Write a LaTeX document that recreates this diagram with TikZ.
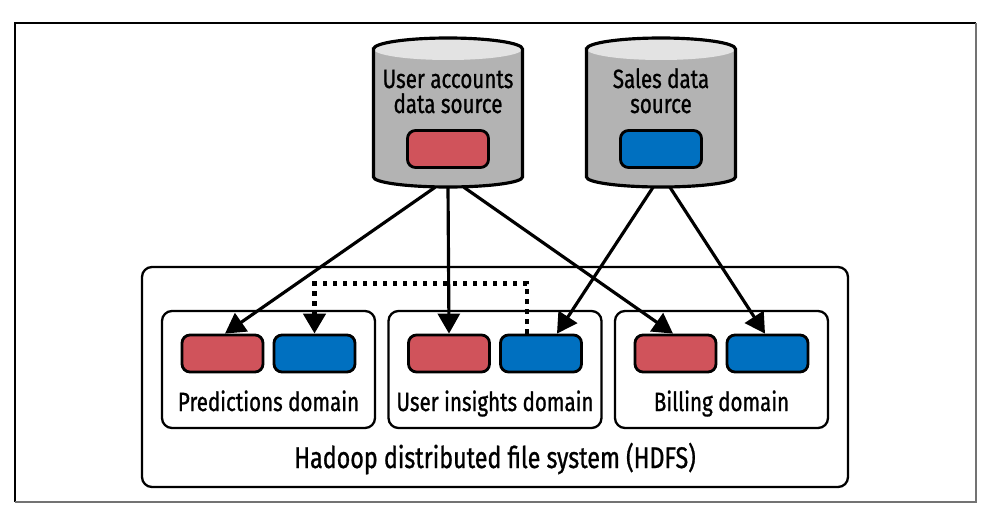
\documentclass[tikz,border=0pt]{standalone}
\usepackage{fontspec}
\setmainfont[FakeStretch=0.78, FakeBold=0.9]{Fira Sans}
\usetikzlibrary{arrows.meta, positioning}
\definecolor{srcred}{HTML}{D0535B}
\definecolor{srcblue}{HTML}{0070C0}
\definecolor{drumgray}{HTML}{B3B3B3}
\definecolor{drumtop}{HTML}{E3E3E3}
\tikzset{
    tablebox/.style={draw=black, line width=1.6pt, rounded corners=0.16cm, minimum width=1.62cm, minimum height=0.74cm, inner sep=0pt},
    domainbox/.style={draw=black, line width=1.3pt, rounded corners=0.2cm, minimum width=4.26cm, minimum height=2.34cm},
    feed/.style={line width=1.8pt, -{Triangle[length=0.4cm, width=0.44cm]}},
    copyline/.style={line width=2.6pt, dash pattern=on 0.09cm off 0.11cm, -{Triangle[length=0.4cm, width=0.44cm]}},
    txt/.style={anchor=base, font=\fontsize{15}{15}\selectfont, inner sep=0pt},
}
\begin{document}
\begin{tikzpicture}
    \newcommand\posA{8.96}
    \newcommand\posS{13.22}
    \newcommand\posP{5.37}
    \newcommand\posU{9.9}
    \newcommand\posB{14.43}

    \useasboundingbox (0,0) rectangle (19.8,10.24);
    \draw[line width=0.7pt] (0.3,0.2) -- (0.3,9.78) -- (19.52,9.78);
    \draw[line width=1.3pt, black!55] (19.52,9.78) -- (19.52,0.2) -- (0.3,0.2);

    \node[draw=black, line width=1.3pt, rounded corners=0.2cm, minimum width=14.12cm, minimum height=4.4cm] (hdfs) at (\posU, 2.7){};
    \node[domainbox] (pred) at (\posP, 2.85){};
    \node[domainbox] (ui) at (\posU, 2.85){};
    \node[domainbox] (bill) at (\posB, 2.85){};

    \node[tablebox, fill=srcred] (predR) at (4.45, 3.17){};
    \node[tablebox, fill=srcblue] (predB) at (6.29, 3.17){};
    \node[tablebox, fill=srcred] (uiR) at (8.98, 3.17){};
    \node[tablebox, fill=srcblue] (uiB) at (10.82, 3.17){};
    \node[tablebox, fill=srcred] (billR) at (13.51, 3.17){};
    \node[tablebox, fill=srcblue] (billB) at (15.35, 3.17){};

    \node[txt] (labP) at (\posP, 2.02){Predictions domain};
    \node[txt] (labU) at (\posU, 2.02){User insights domain};
    \node[txt] (labB) at (\posB, 2.02){Billing domain};
    \node[txt, font=\fontsize{17}{17}\selectfont] (labH) at (\posU, 0.88){Hadoop distributed file system (HDFS)};

    % the two data source drums
    \foreach \x in {\posA, \posS}{
        \fill[drumgray] (\x - 1.49, 9.26) -- (\x - 1.49, 6.7) arc (180:360:1.49 and 0.2) -- (\x + 1.49, 9.26) arc (0:180:1.49 and 0.22) -- cycle;
        \fill[drumtop] (\x, 9.26) ellipse (1.49 and 0.22);
        \draw[line width=1.8pt] (\x - 1.49, 9.26) -- (\x - 1.49, 6.7) arc (180:360:1.49 and 0.2) -- (\x + 1.49, 9.26) arc (0:180:1.49 and 0.22) -- cycle;
    }
    \node[minimum width=2.98cm, minimum height=2.98cm, inner sep=0pt] (accts) at (\posA, 7.99){};
    \node[minimum width=2.98cm, minimum height=2.98cm, inner sep=0pt] (sales) at (\posS, 7.99){};
    \node[tablebox, fill=srcred] (acctsR) at (\posA, 7.26){};
    \node[tablebox, fill=srcblue] (salesB) at (\posS, 7.26){};
    \node[txt] (labA) at (\posA, 8.48){User accounts};
    \node[txt] (labA2) at (\posA, 7.98){data source};
    \node[txt] (labS) at (\posS, 8.48){Sales data};
    \node[txt] (labS2) at (\posS, 7.98){source};

    \draw[feed] ([xshift=-0.26cm]accts.south) -- ([xshift=0.05cm]predR.north);
    \draw[feed] (accts.south) -- (uiR.north);
    \draw[feed] ([xshift=0.32cm]accts.south) -- ([xshift=-0.05cm]billR.north);
    \draw[feed] ([xshift=-0.16cm]sales.south) -- ([xshift=0.32cm]uiB.north);
    \draw[feed] ([xshift=0.18cm]sales.south) -- ([xshift=-0.05cm]billB.north);
    \draw[copyline] ([xshift=-0.28cm]uiB.north) -- ++(0,1.0) -| (predB.north);
\end{tikzpicture}
\end{document}
